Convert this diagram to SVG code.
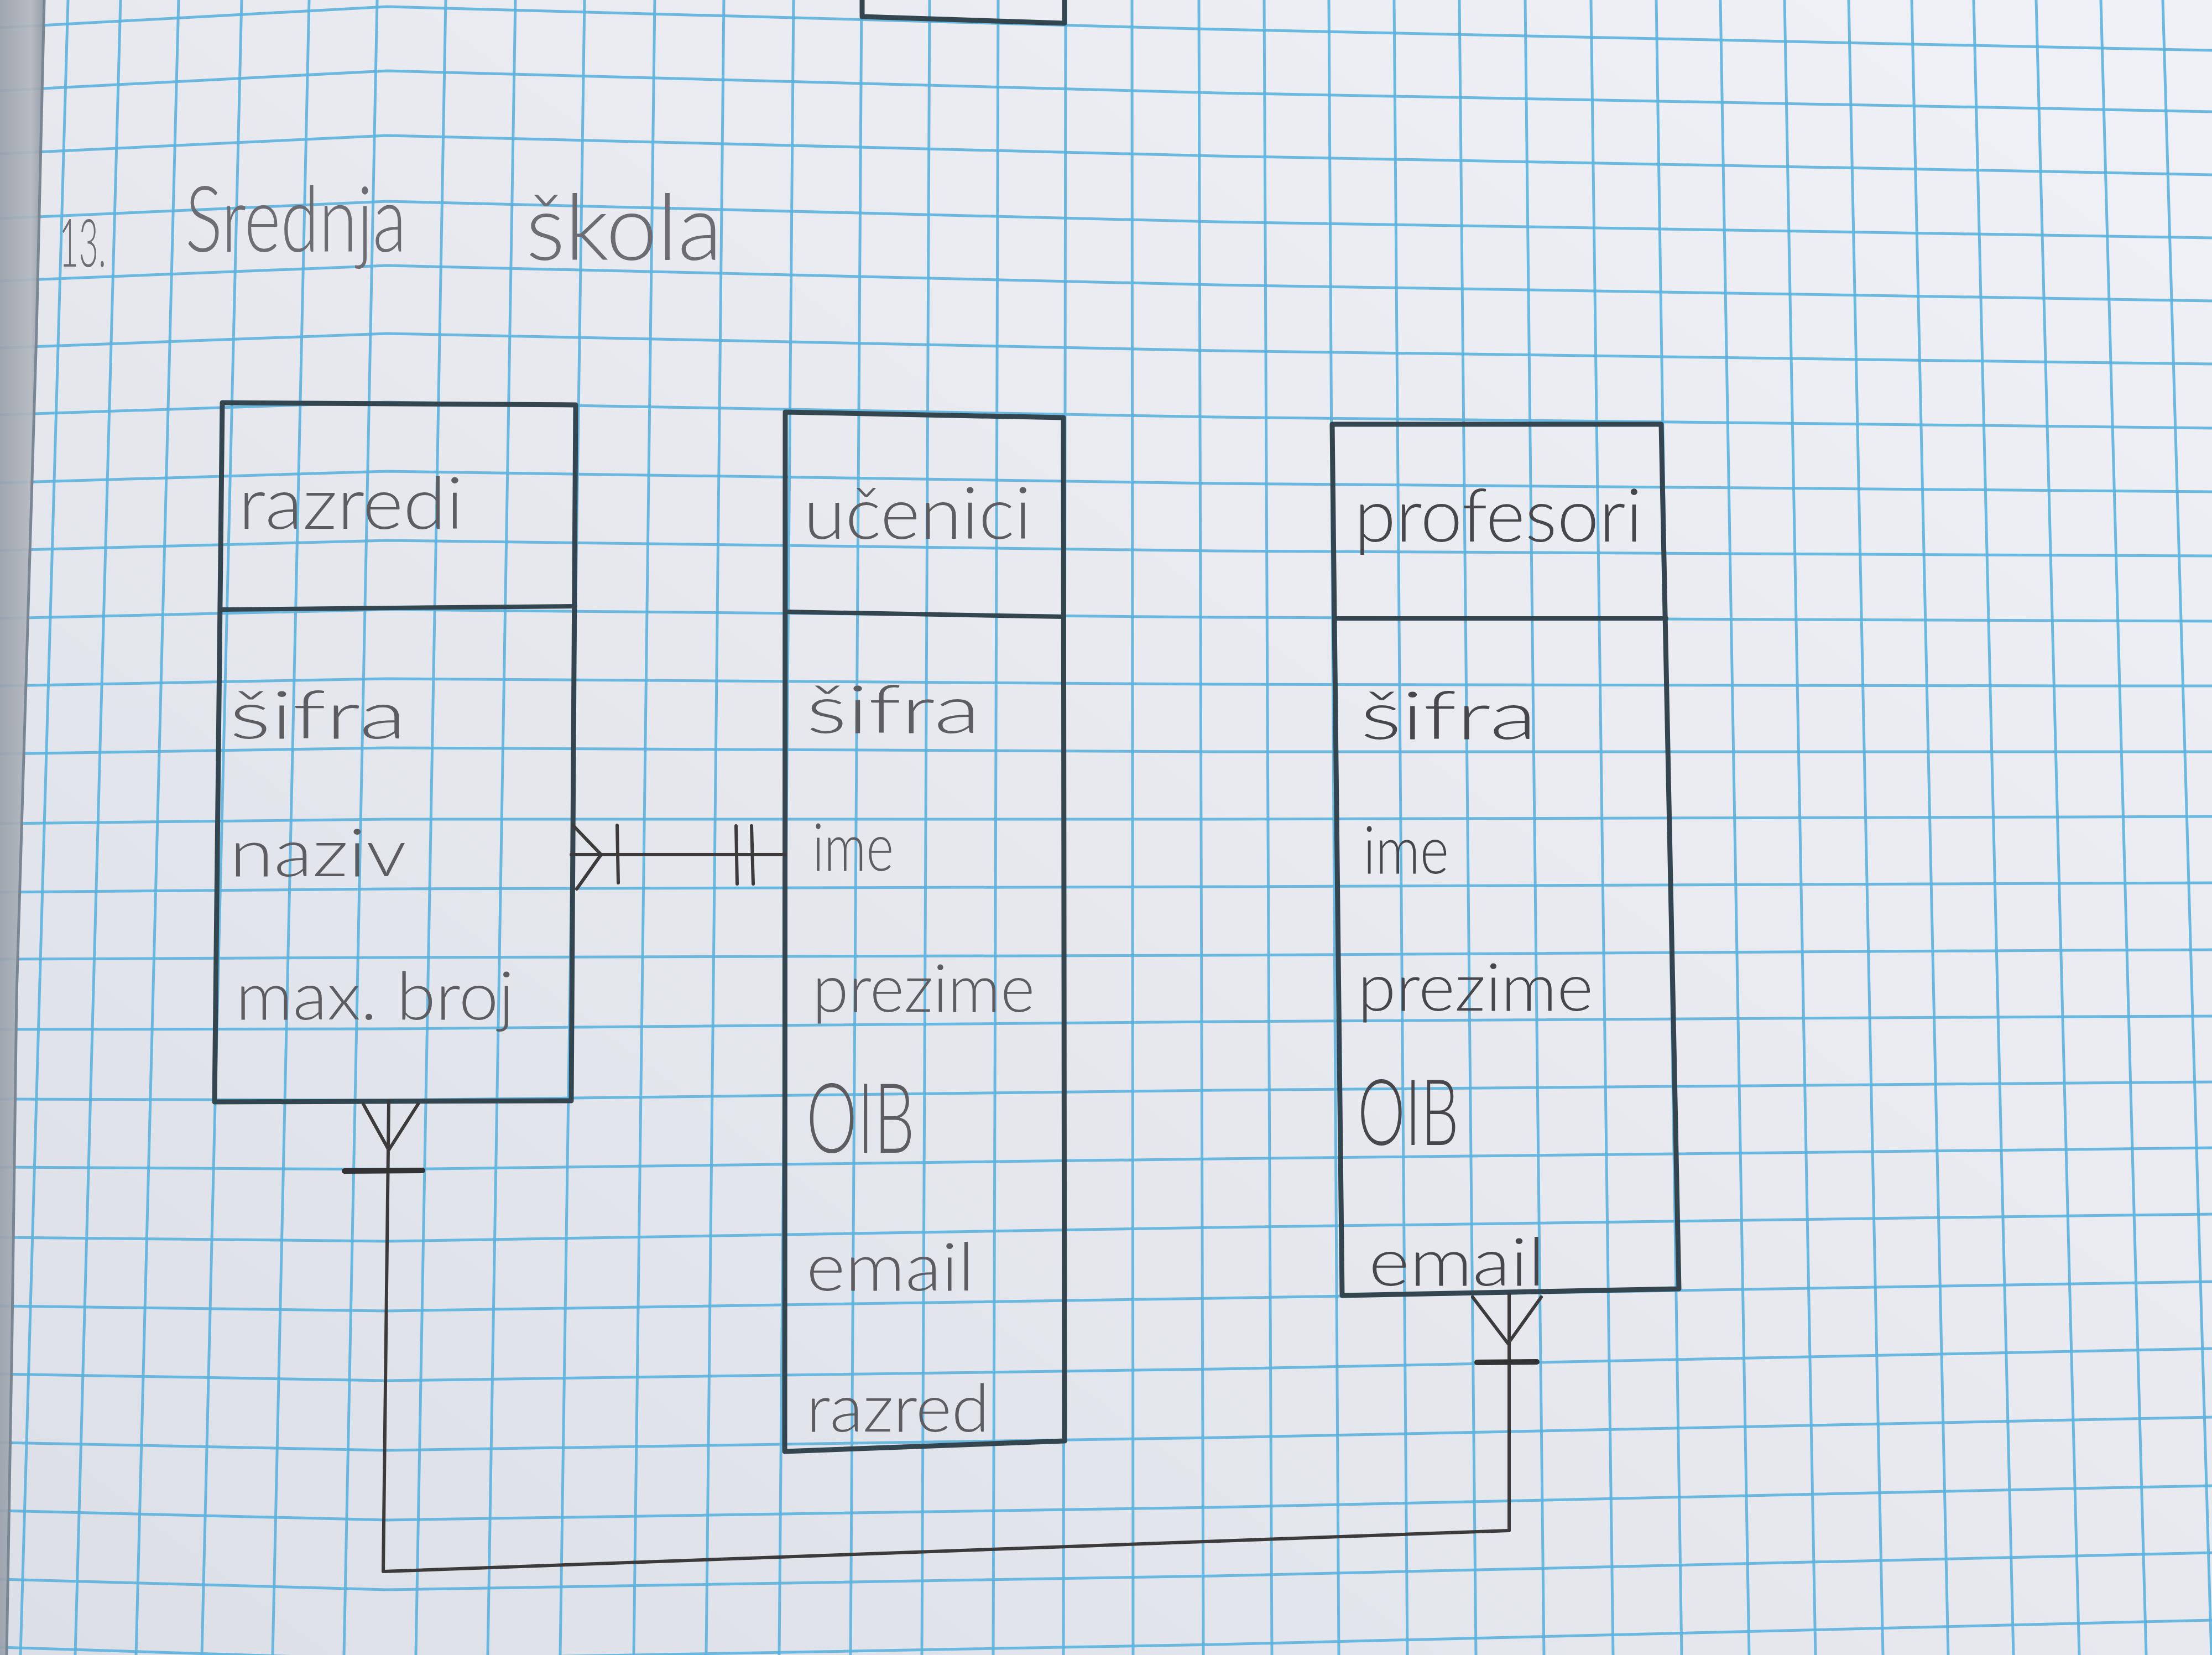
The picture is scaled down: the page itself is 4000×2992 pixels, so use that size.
<svg xmlns="http://www.w3.org/2000/svg" width="4000" height="2992" viewBox="0 0 4000 2992">
<defs>
<linearGradient id="paper" x1="1" y1="0" x2="0" y2="1">
<stop offset="0" stop-color="#eff1f6"/>
<stop offset="0.5" stop-color="#e7e9ef"/>
<stop offset="1" stop-color="#dcdfe6"/>
</linearGradient>
<linearGradient id="bind" x1="0" y1="0" x2="1" y2="0">
<stop offset="0" stop-color="#9aa1aa"/>
<stop offset="0.7" stop-color="#b3b8bf"/>
<stop offset="1" stop-color="#8e97a2"/>
</linearGradient>
<style>
.g{fill:none;stroke:#5cb3de;stroke-width:5;opacity:0.9}
.box{fill:none;stroke:#33454e;stroke-width:9;stroke-linejoin:round;stroke-linecap:round}
.div{fill:none;stroke:#33454e;stroke-width:8;stroke-linecap:round}
.conn{fill:none;stroke:#3c3a3b;stroke-width:6;stroke-linecap:round;stroke-linejoin:round}
.bar{fill:none;stroke:#333234;stroke-width:10;stroke-linecap:round}
.t{font-family:Lato,'Liberation Sans',sans-serif;font-weight:300;fill:#5c5c61}
.h{font-size:130px}
.a{font-size:120px}
.o{font-size:175px}
.dk{fill:#47474b}
.ttl{font-size:165px;fill:#6c6c72}
</style>
</defs>
<rect x="0" y="0" width="4000" height="2992" fill="url(#paper)"/>
<g id="grid">
<path class="g" d="M123,0L37,2992M218,0L136,2992M323,0L246,2992M437,0L365,2992M559,0L493,2992M682,0L622,2992M806,0L752,2992M932,0L882,2992M1057,0L1013,2992M1184,0L1146,2992M1309,0L1277,2992M1435,0L1409,2992M1558,0L1538,2992M1681,0L1667,2992M1805,0L1796,2992M1927,0L1923,2992M2047,0L2049,2992M2168,0L2176,2992M2286,0L2300,2992M2403,0L2421,2992M2521,0L2545,2992M2639,0L2669,2992M2758,0L2792,2992M2877,0L2917,2992M2995,0L3041,2992M3111,0L3163,2992M3227,0L3283,2992M3343,0L3405,2992M3457,0L3523,2992M3569,0L3641,2992M3682,0L3760,2992M3799,0L3881,2992M3911,0L3999,2992"/>
<path class="g" d="M0,50L700,12L2200,53L3750,86L4000,91M0,164L700,128L2200,168L3750,197L4000,202M0,278L700,245L2200,282L3750,311L4000,316M0,395L700,364L2200,401L3750,426L4000,430M0,508L700,480L2200,515L3750,540L4000,544M0,629L700,603L2200,634L3750,655L4000,658M0,750L700,727L2200,754L3750,771L4000,774M0,873L700,852L2200,874L3750,887L4000,889M0,995L700,977L2200,996L3750,1004L4000,1005M0,1118L700,1102L2200,1116L3750,1122L4000,1123M0,1240L700,1227L2200,1237L3750,1240L4000,1240M0,1363L700,1352L2200,1359L3750,1359L4000,1359M0,1489L700,1481L2200,1481L3750,1477L4000,1476M0,1613L700,1607L2200,1603L3750,1597L4000,1596M0,1734L700,1731L2200,1727L3750,1718L4000,1717M0,1861L700,1860L2200,1847L3750,1838L4000,1837M0,1987L700,1989L2200,1971L3750,1958L4000,1956M0,2110L700,2114L2200,2095L3750,2078L4000,2075M0,2237L700,2244L2200,2219L3750,2198L4000,2195M0,2361L700,2370L2200,2347L3750,2321L4000,2317M0,2484L700,2496L2200,2475L3750,2443L4000,2438M0,2608L700,2622L2200,2599L3750,2567L4000,2562M0,2731L700,2748L2200,2725L3750,2691L4000,2686M0,2855L700,2874L2200,2849L3750,2813L4000,2807M0,2978L700,3000L2200,2973L3750,2935L4000,2929"/>
</g>
<g id="binding">
<path d="M0,0L80,0L66,600L30,1800L22,2400L12,2992L0,2992Z" fill="url(#bind)" opacity="0.92"/>
<path d="M80,0L66,600L30,1800L22,2400L12,2992" fill="none" stroke="#7b8693" stroke-width="5"/>
</g>
<g id="top-partial-box">
<path class="box" d="M1559,0L1559,30L1925,42L1925,0"/>
</g>
<g id="title">
<text class="t ttl" x="107" y="482" font-size="120" textLength="85" lengthAdjust="spacingAndGlyphs" style="font-size:120px">13.</text>
<text class="t ttl" x="335" y="455" textLength="400" lengthAdjust="spacingAndGlyphs">Srednja</text>
<text class="t ttl" x="951" y="470" textLength="355" lengthAdjust="spacingAndGlyphs">škola</text>
</g>
<g id="razredi">
<path class="box" d="M402,728L1041,732L1033,1990L388,1992Z"/>
<path class="div" d="M400,1102L1040,1096"/>
<text class="t h" x="431" y="956" textLength="407" lengthAdjust="spacingAndGlyphs">razredi</text>
<text class="t a" x="415" y="1335" textLength="320" lengthAdjust="spacingAndGlyphs">šifra</text>
<text class="t a" x="415" y="1584" textLength="320" lengthAdjust="spacingAndGlyphs">naziv</text>
<text class="t a" x="426" y="1843" textLength="504" lengthAdjust="spacingAndGlyphs">max. broj</text>
</g>
<g id="ucenici">
<path class="box" d="M1420,745L1923,755L1925,2605L1419,2624Z"/>
<path class="div" d="M1420,1106L1924,1115"/>
<text class="t h" x="1453" y="974" textLength="412" lengthAdjust="spacingAndGlyphs">učenici</text>
<text class="t a" x="1458" y="1325" textLength="315" lengthAdjust="spacingAndGlyphs">šifra</text>
<text class="t a" x="1469" y="1574" textLength="147" lengthAdjust="spacingAndGlyphs">ime</text>
<text class="t a" x="1469" y="1829" textLength="402" lengthAdjust="spacingAndGlyphs">prezime</text>
<text class="t o" x="1458" y="2084" textLength="196" lengthAdjust="spacingAndGlyphs">OIB</text>
<text class="t a" x="1458" y="2333" textLength="304" lengthAdjust="spacingAndGlyphs">email</text>
<text class="t a" x="1458" y="2588" textLength="331" lengthAdjust="spacingAndGlyphs">razred</text>
</g>
<g id="profesori">
<path class="box" d="M2409,767L3004,767L3036,2330L2427,2342Z"/>
<path class="div" d="M2414,1118L3013,1118"/>
<text class="t h dk" x="2449" y="979" textLength="521" lengthAdjust="spacingAndGlyphs" style="font-size:135px">profesori</text>
<text class="t a dk" x="2460" y="1336" textLength="319" lengthAdjust="spacingAndGlyphs">šifra</text>
<text class="t a dk" x="2465" y="1579" textLength="155" lengthAdjust="spacingAndGlyphs">ime</text>
<text class="t a dk" x="2455" y="1827" textLength="426" lengthAdjust="spacingAndGlyphs">prezime</text>
<text class="t o dk" x="2455" y="2070" textLength="183" lengthAdjust="spacingAndGlyphs" style="font-size:165px">OIB</text>
<text class="t a dk" x="2475" y="2324" textLength="319" lengthAdjust="spacingAndGlyphs">email</text>
</g>
<g id="connectors">
<g id="razredi-ucenici">
<path class="conn" d="M1033,1545L1420,1545"/>
<path class="conn" d="M1036,1492L1087,1545L1043,1607"/>
<path class="conn" d="M1116,1492L1118,1596"/>
<path class="conn" d="M1331,1493L1333,1598"/>
<path class="conn" d="M1359,1493L1362,1598"/>
</g>
<g id="razredi-profesori">
<path class="conn" d="M703,1992L693,2841L2729,2767L2729,2340"/>
<path class="conn" d="M657,1996L703,2079L756,1996"/>
<path class="bar" d="M623,2117L764,2116"/>
<path class="conn" d="M2663,2345L2727,2429L2787,2345"/>
<path class="bar" d="M2671,2463L2779,2462"/>
</g>
</g>
</svg>
